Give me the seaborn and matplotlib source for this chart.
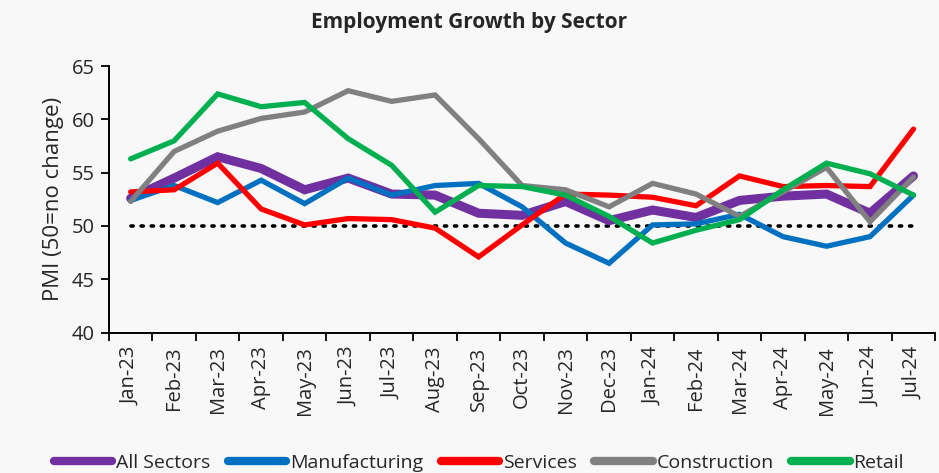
import numpy as np
import pandas as pd
import matplotlib
matplotlib.use("Agg")
import matplotlib.pyplot as plt
import seaborn as sns
from matplotlib.lines import Line2D

months = ["Jan-23", "Feb-23", "Mar-23", "Apr-23", "May-23", "Jun-23", "Jul-23",
          "Aug-23", "Sep-23", "Oct-23", "Nov-23", "Dec-23", "Jan-24", "Feb-24",
          "Mar-24", "Apr-24", "May-24", "Jun-24", "Jul-24"]

all_sectors = [52.6, 54.5, 56.5, 55.4, 53.4, 54.5, 53.0, 52.9, 51.2, 51.0,
               52.3, 50.5, 51.5, 50.8, 52.4, 52.8, 53.0, 51.2, 54.7]
manufacturing = [52.4, 53.8, 52.2, 54.3, 52.1, 54.5, 52.9, 53.8, 54.0, 51.8,
                 48.4, 46.5, 50.1, 50.2, 51.1, 49.0, 48.1, 49.0, 52.9]
services = [53.2, 53.4, 55.9, 51.6, 50.1, 50.7, 50.6, 49.8, 47.1, 50.1,
            53.0, 52.9, 52.7, 51.9, 54.7, 53.7, 53.8, 53.7, 59.1]
construction = [52.3, 57.0, 58.9, 60.1, 60.7, 62.7, 61.7, 62.3, 58.2, 53.8,
                53.4, 51.8, 54.0, 53.0, 50.9, 53.2, 55.5, 50.4, 54.6]
retail = [56.3, 58.0, 62.4, 61.2, 61.6, 58.2, 55.7, 51.3, 53.8, 53.7,
          52.9, 50.9, 48.4, 49.6, 50.6, 53.4, 55.9, 54.9, 52.9]
baseline = 50

series_names = ["All Sectors", "Manufacturing", "Services", "Construction", "Retail"]
series_values = [all_sectors, manufacturing, services, construction, retail]
colors = ["#7030A0", "#0070C0", "#FF0000", "#808080", "#00B050"]
widths = [6.5, 3.8, 3.8, 3.8, 3.8]

sns.set_theme(style="white")
plt.rcParams["font.family"] = ["Open Sans", "DejaVu Sans"]

fig = plt.figure(figsize=(9.39, 4.73), dpi=100)
fig.patch.set_facecolor("#f8f8f8")
ax = fig.add_axes([0.116, 0.297, 0.880, 0.563])
ax.set_facecolor("#f8f8f8")

x = np.arange(len(months))
# baseline dotted
sns.lineplot(x=x, y=[baseline] * len(months), ax=ax, color="black",
             linestyle=(0, (0.6, 2.2)), linewidth=2.6, dash_capstyle="round", zorder=1)

handles = []
for i, (name, vals, c, w) in enumerate(zip(series_names, series_values, colors, widths)):
    df = pd.DataFrame({"x": x, "y": vals})
    sns.lineplot(data=df, x="x", y="y", ax=ax, color=c, linewidth=w,
                 solid_capstyle="round", solid_joinstyle="miter", zorder=2 + i)
    handles.append(Line2D([0], [0], color=c, linewidth=6, solid_capstyle="round", label=name))

ax.set_xlim(-0.5, len(months) - 0.5)
ax.set_ylim(40, 65)
ax.set_yticks([40, 45, 50, 55, 60, 65])
ax.set_xticks(x)
ax.set_xticklabels(months, rotation=90, fontsize=14.5)
ax.set_xticks(np.arange(-0.5, len(months), 1), minor=True)
ax.tick_params(axis="x", which="major", length=0, pad=10)
ax.tick_params(axis="x", which="minor", length=6, width=1.3, color="black", direction="out", bottom=True)
ax.tick_params(axis="y", length=6, width=1.3, color="black", direction="out", left=True, labelsize=14.5, pad=4)
for s in ["top", "right"]:
    ax.spines[s].set_visible(False)
for s in ["left", "bottom"]:
    ax.spines[s].set_color("black")
    ax.spines[s].set_linewidth(1.4)
ax.set_xlabel("")
ax.set_ylabel("PMI (50=no change)", fontsize=16, labelpad=6)
ax.grid(False)

fig.suptitle("Employment Growth by Sector", fontsize=15, fontweight="bold", y=0.975)

fig.legend(handles=handles, loc="lower center", bbox_to_anchor=(0.51, -0.035), ncol=5,
           frameon=False, fontsize=14, handlelength=3.0, handletextpad=0.2,
           columnspacing=0.9)

fig.savefig("out.png", dpi=100, facecolor=fig.get_facecolor())
